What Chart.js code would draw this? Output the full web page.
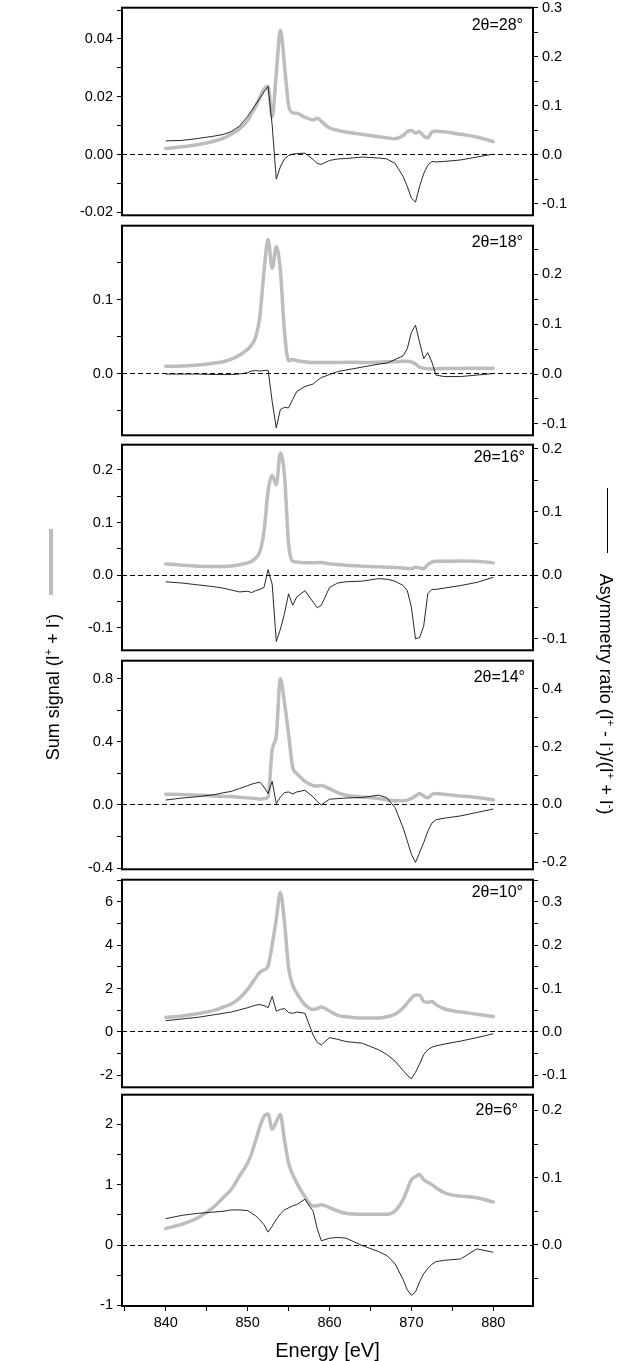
<!DOCTYPE html>
<html>
<head>
<meta charset="utf-8">
<title>Sum signal and asymmetry ratio</title>
<script src="https://cdn.jsdelivr.net/npm/chart.js@4.4.0/dist/chart.umd.min.js"></script>
<style>
  html, body { margin: 0; padding: 0; background: #fff; }
  #page { position: relative; width: 640px; height: 1361px; overflow: hidden;
          font-family: "Liberation Sans", Arial, sans-serif; color: #000; }
  #page canvas { position: absolute; left: 0; }
  .angle { position: absolute; font-size: 16px; white-space: nowrap; transform: translateY(-50%); }
  .vtitle { position: absolute; font-size: 18px; white-space: nowrap; }
  .vtitle sup { font-size: 11px; vertical-align: 7px; line-height: 0; }
  .key { position: absolute; }
</style>
</head>
<body>
<div id="page"></div>
<script>
// energy grid shared by all panels (eV)
const energy = [840, 842, 844, 846, 847, 848, 849, 850, 850.5, 851, 851.5, 852, 852.5, 853, 853.5,
  854, 854.5, 855, 855.5, 856, 857, 858, 858.5, 859, 860, 861, 862, 864, 866, 867,
  868, 869, 869.5, 870, 870.5, 871, 871.5, 872, 872.5, 873, 874, 876, 878, 880];

// 2theta = 28 deg
const sum28 = [0.0021, 0.0027, 0.0035, 0.0047, 0.0056, 0.0070, 0.0089, 0.0118, 0.0143, 0.0167,
  0.0199, 0.0227, 0.0236, 0.0130, 0.0280, 0.0430, 0.0310, 0.0171, 0.0145, 0.0143,
  0.0129, 0.0120, 0.0126, 0.0115, 0.0092, 0.0084, 0.0078, 0.0070, 0.0062, 0.0058,
  0.0055, 0.0066, 0.0079, 0.0083, 0.0075, 0.0079, 0.0064, 0.0058, 0.0078, 0.0081,
  0.0079, 0.0070, 0.0061, 0.0045];
const asym28 = [0.028, 0.029, 0.033, 0.038, 0.041, 0.047, 0.058, 0.078, 0.090, 0.103,
  0.115, 0.128, 0.139, 0.060, -0.050, -0.025, -0.009, -0.002, 0.001, 0.002,
  0.003, -0.010, -0.018, -0.020, -0.012, -0.009, -0.008, -0.005, -0.007, -0.009,
  -0.018, -0.045, -0.065, -0.089, -0.097, -0.065, -0.039, -0.022, -0.014, -0.015,
  -0.014, -0.011, -0.005, 0.001];

// 2theta = 18 deg
const sum18 = [0.0101, 0.0105, 0.0118, 0.0145, 0.0162, 0.0197, 0.025, 0.033, 0.039, 0.050,
  0.077, 0.138, 0.181, 0.142, 0.171, 0.139, 0.057, 0.0175, 0.019, 0.0175,
  0.016, 0.015, 0.015, 0.015, 0.015, 0.0152, 0.0154, 0.0152, 0.0155, 0.016,
  0.016, 0.0167, 0.0167, 0.016, 0.013, 0.0088, 0.0075, 0.0066, 0.0064, 0.0066,
  0.007, 0.0072, 0.0074, 0.0075];
const asym18 = [0.000, 0.000, 0.000, -0.001, -0.001, -0.001, 0.000, 0.003, 0.006, 0.007,
  0.006, 0.007, 0.008, -0.055, -0.108, -0.071, -0.067, -0.068, -0.051, -0.035,
  -0.025, -0.020, -0.013, -0.007, -0.001, 0.005, 0.008, 0.014, 0.020, 0.022,
  0.029, 0.037, 0.051, 0.084, 0.098, 0.064, 0.031, 0.043, 0.024, -0.002,
  -0.005, -0.005, -0.002, 0.001];

// 2theta = 16 deg
const sum16 = [0.0216, 0.019, 0.0173, 0.0167, 0.0167, 0.0175, 0.0200, 0.0235, 0.0265, 0.033,
  0.045, 0.083, 0.160, 0.190, 0.172, 0.232, 0.190, 0.060, 0.0265, 0.025,
  0.0235, 0.0235, 0.024, 0.024, 0.0216, 0.0204, 0.019, 0.0173, 0.016, 0.0154,
  0.0148, 0.0136, 0.013, 0.0123, 0.0154, 0.0142, 0.0123, 0.0204, 0.025, 0.0265,
  0.0265, 0.027, 0.0265, 0.0235];
const asym16 = [-0.010, -0.012, -0.015, -0.018, -0.020, -0.023, -0.026, -0.025, -0.027, -0.024,
  -0.022, -0.019, 0.009, -0.014, -0.104, -0.085, -0.060, -0.029, -0.047, -0.034,
  -0.024, -0.042, -0.051, -0.047, -0.019, -0.012, -0.010, -0.009, -0.005, -0.006,
  -0.009, -0.016, -0.024, -0.050, -0.100, -0.098, -0.080, -0.029, -0.022, -0.022,
  -0.020, -0.016, -0.011, -0.003];

// 2theta = 14 deg
const sum14 = [0.068, 0.066, 0.062, 0.057, 0.055, 0.053, 0.049, 0.045, 0.043, 0.041,
  0.037, 0.040, 0.050, 0.350, 0.440, 0.800, 0.650, 0.450, 0.240, 0.200,
  0.150, 0.123, 0.120, 0.123, 0.103, 0.078, 0.062, 0.051, 0.041, 0.033,
  0.027, 0.027, 0.031, 0.041, 0.057, 0.072, 0.057, 0.045, 0.066, 0.072,
  0.068, 0.057, 0.047, 0.033];
const asym14 = [0.015, 0.022, 0.027, 0.034, 0.040, 0.045, 0.055, 0.065, 0.070, 0.074,
  0.077, 0.060, 0.038, 0.080, 0.003, 0.025, 0.041, 0.043, 0.036, 0.043,
  0.049, 0.026, 0.010, -0.002, 0.018, 0.020, 0.022, 0.024, 0.032, 0.023,
  -0.011, -0.082, -0.127, -0.173, -0.201, -0.167, -0.133, -0.093, -0.065, -0.053,
  -0.048, -0.040, -0.028, -0.016];

// 2theta = 10 deg
const sum10 = [0.67, 0.74, 0.85, 1.01, 1.15, 1.29, 1.56, 1.96, 2.23, 2.50,
  2.75, 2.86, 3.05, 4.02, 5.20, 6.43, 5.06, 2.98, 2.16, 1.79,
  1.26, 1.04, 1.08, 1.15, 0.97, 0.77, 0.70, 0.64, 0.64, 0.70,
  0.82, 1.12, 1.34, 1.56, 1.71, 1.70, 1.41, 1.37, 1.41, 1.26,
  1.07, 0.92, 0.82, 0.71];
const asym10 = [0.026, 0.030, 0.034, 0.040, 0.043, 0.046, 0.051, 0.056, 0.059, 0.062,
  0.063, 0.061, 0.056, 0.082, 0.048, 0.052, 0.054, 0.045, 0.043, 0.046,
  0.043, -0.007, -0.024, -0.030, -0.013, -0.017, -0.022, -0.026, -0.041, -0.052,
  -0.067, -0.089, -0.100, -0.108, -0.093, -0.074, -0.052, -0.041, -0.035, -0.032,
  -0.028, -0.021, -0.013, -0.004];

// 2theta = 6 deg
const sum6 = [0.274, 0.345, 0.455, 0.647, 0.784, 0.920, 1.140, 1.360, 1.520, 1.740,
  1.960, 2.130, 2.170, 1.920, 2.040, 2.160, 1.740, 1.360, 1.170, 1.030,
  0.800, 0.647, 0.650, 0.668, 0.620, 0.564, 0.526, 0.510, 0.510, 0.510,
  0.564, 0.756, 0.920, 1.080, 1.130, 1.170, 1.080, 1.040, 1.000, 0.950,
  0.866, 0.810, 0.784, 0.712];
const asym6 = [0.039, 0.044, 0.047, 0.049, 0.050, 0.052, 0.052, 0.051, 0.047, 0.043,
  0.037, 0.030, 0.019, 0.028, 0.038, 0.046, 0.052, 0.055, 0.058, 0.060,
  0.068, 0.050, 0.024, 0.006, 0.010, 0.011, 0.010, -0.001, -0.010, -0.016,
  -0.028, -0.052, -0.067, -0.075, -0.070, -0.055, -0.043, -0.035, -0.029, -0.025,
  -0.023, -0.021, -0.006, -0.011];

const X_MIN = 834.66;
const X_MAX = 884.85;

// panel layout, axis ranges and tick steps
const panels = [
  { label: '2θ=28°', sum: sum28, asym: asym28, top: 5, bottom: 218, labelY: 25, labelRight: 523,
    left:  { min: -0.021, max: 0.0508, major: 0.02, minor: 0.01, digits: 2 },
    right: { min: -0.124, max: 0.3, major: 0.1, minor: 0.05, digits: 1 } },
  { label: '2θ=18°', sum: sum18, asym: asym18, top: 223, bottom: 438, labelY: 242, labelRight: 523,
    left:  { min: -0.083, max: 0.1995, major: 0.1, minor: 0.05, digits: 1 },
    right: { min: -0.123, max: 0.298, major: 0.1, minor: 0.05, digits: 1 } },
  { label: '2θ=16°', sum: sum16, asym: asym16, top: 442, bottom: 653, labelY: 457, labelRight: 525,
    left:  { min: -0.1426, max: 0.248, major: 0.1, minor: 0.05, digits: 1 },
    right: { min: -0.118, max: 0.206, major: 0.1, minor: 0.05, digits: 1 } },
  { label: '2θ=14°', sum: sum14, asym: asym14, top: 658, bottom: 872, labelY: 677, labelRight: 525,
    left:  { min: -0.408, max: 0.915, major: 0.4, minor: 0.2, digits: 1 },
    right: { min: -0.225, max: 0.498, major: 0.2, minor: 0.1, digits: 1 } },
  { label: '2θ=10°', sum: sum10, asym: asym10, top: 877, bottom: 1090, labelY: 892, labelRight: 523,
    left:  { min: -2.55, max: 7.02, major: 2, minor: 1, digits: 0 },
    right: { min: -0.1275, max: 0.351, major: 0.1, minor: 0.05, digits: 1 } },
  { label: '2θ=6°', sum: sum6, asym: asym6, top: 1092, bottom: 1306, labelY: 1110, labelRight: 518,
    left:  { min: -1.01, max: 2.49, major: 1, minor: 0.5, digits: 0 },
    right: { min: -0.091, max: 0.2235, major: 0.1, minor: 0.05, digits: 1 } }
];

Chart.defaults.font.family = '"Liberation Sans", Arial, sans-serif';
Chart.defaults.color = '#000';

const framePlugin = {
  id: 'frame',
  afterDraw(chart) {
    const { ctx, chartArea: a } = chart;
    ctx.save();
    ctx.strokeStyle = '#000';
    ctx.lineWidth = 2;
    ctx.strokeRect(a.left, a.top, a.right - a.left, a.bottom - a.top);
    ctx.restore();
  }
};

function buildTicks(min, max, step) {
  const out = [];
  for (let k = Math.ceil(min / step - 1e-6); k * step <= max + step * 1e-6; k++) {
    out.push({ value: Math.round(k * step * 1e6) / 1e6 });
  }
  return out;
}

function isMajor(v, major) {
  return Math.abs(v / major - Math.round(v / major)) < 1e-6;
}

function yAxis(spec, position, width) {
  return {
    type: 'linear',
    position,
    min: spec.min,
    max: spec.max,
    afterFit: (s) => { s.width = width; },
    afterBuildTicks: (s) => { s.ticks = buildTicks(spec.min, spec.max, spec.minor); },
    ticks: {
      autoSkip: false,
      padding: 4,
      color: '#000',
      font: { size: 14.5 },
      callback: (v) => isMajor(v, spec.major) ? v.toFixed(spec.digits) : ''
    },
    grid: {
      drawOnChartArea: position === 'left',
      tickLength: 5,
      tickColor: '#000',
      tickWidth: 1,
      lineWidth: 1,
      color: (c) => (c.tick && Math.abs(c.tick.value) < 1e-9) ? '#000' : 'rgba(0,0,0,0)'
    },
    border: { display: false, dash: [5, 3] }
  };
}

function xAxis(isBottom, height) {
  if (!isBottom) {
    return { type: 'linear', min: X_MIN, max: X_MAX, display: false };
  }
  return {
    type: 'linear',
    min: X_MIN,
    max: X_MAX,
    afterFit: (s) => { s.height = height; },
    afterBuildTicks: (s) => { s.ticks = buildTicks(X_MIN, X_MAX, 5); },
    ticks: {
      autoSkip: false,
      maxRotation: 0,
      padding: 3,
      color: '#000',
      font: { size: 14.5 },
      callback: (v) => isMajor(v, 10) ? String(v) : ''
    },
    grid: { drawOnChartArea: false, tickLength: 5, tickColor: '#000', tickWidth: 1 },
    border: { display: false },
    title: {
      display: true,
      text: 'Energy [eV]',
      color: '#000',
      font: { size: 20, lineHeight: 1 },
      padding: 0
    }
  };
}

function toPoints(values) {
  return values.map((v, i) => ({ x: energy[i], y: v }));
}

function renderPanel(page, p, isBottom) {
  const padTop = 10;
  const canvasTop = p.top - padTop;
  const plotH = p.bottom - p.top;
  const axisH = 55;
  const h = isBottom ? 1361 - canvasTop : plotH + 2 * padTop;

  const canvas = document.createElement('canvas');
  canvas.width = 640;
  canvas.height = h;
  canvas.style.top = canvasTop + 'px';
  canvas.style.width = '640px';
  canvas.style.height = h + 'px';
  page.appendChild(canvas);

  new Chart(canvas.getContext('2d'), {
    type: 'line',
    data: {
      datasets: [
        {
          label: 'Asymmetry ratio',
          data: toPoints(p.asym),
          yAxisID: 'yR',
          borderColor: '#111',
          borderWidth: 0.9,
          pointRadius: 0,
          tension: 0
        },
        {
          label: 'Sum signal',
          data: toPoints(p.sum),
          yAxisID: 'yL',
          borderColor: '#bdbdbd',
          borderWidth: 3.5,
          pointRadius: 0,
          cubicInterpolationMode: 'monotone',
          borderJoinStyle: 'round',
          borderCapStyle: 'round'
        }
      ]
    },
    options: {
      responsive: false,
      animation: false,
      devicePixelRatio: 1,
      layout: { padding: { top: padTop, bottom: isBottom ? 0 : padTop, left: 0, right: 0 } },
      scales: {
        x: xAxis(isBottom, axisH),
        yL: yAxis(p.left, 'left', 122),
        yR: yAxis(p.right, 'right', 107)
      },
      plugins: {
        legend: { display: false },
        tooltip: { enabled: false }
      }
    },
    plugins: [framePlugin]
  });

  const tag = document.createElement('div');
  tag.className = 'angle';
  tag.textContent = p.label;
  tag.style.top = p.labelY + 'px';
  tag.style.right = (640 - p.labelRight) + 'px';
  page.appendChild(tag);
}

const page = document.getElementById('page');
panels.forEach((p, i) => renderPanel(page, p, i === panels.length - 1));

// shared axis titles and their line keys
page.insertAdjacentHTML('beforeend', `
  <div class="key" style="left:49px; top:529px; width:3.5px; height:66px; background:#bdbdbd;"></div>
  <div class="vtitle" style="left:53px; top:687px; transform:translate(-50%,-50%) rotate(-90deg);">Sum signal (I<sup>+</sup> + I<sup>-</sup>)</div>
  <div class="key" style="left:606.5px; top:488px; width:1px; height:65px; background:#000;"></div>
  <div class="vtitle" style="left:605px; top:694px; transform:translate(-50%,-50%) rotate(90deg);">Asymmetry ratio (I<sup>+</sup> - I<sup>-</sup>)/(I<sup>+</sup> + I<sup>-</sup>)</div>
`);
</script>
</body>
</html>
